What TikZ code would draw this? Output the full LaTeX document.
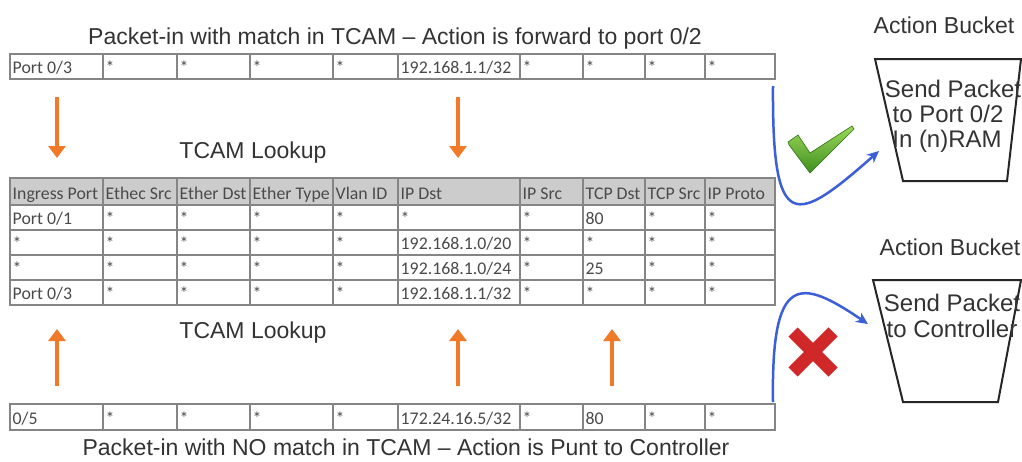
\documentclass[tikz,border=0pt]{standalone}
\usepackage{fontspec}
\setmainfont{Liberation Sans}
\newfontfamily\tabfont{Carlito}
\usetikzlibrary{arrows.meta}
\definecolor{txt}{HTML}{333333}
\definecolor{tabtxt}{HTML}{4A4A4A}
\definecolor{grid}{HTML}{858585}
\definecolor{hdr}{HTML}{CCCCCC}
\definecolor{org}{HTML}{F07A28}
\definecolor{blu}{HTML}{3A5FD8}
\definecolor{chkL}{HTML}{9BD85A}
\definecolor{chkD}{HTML}{3F8F1F}
\definecolor{xred}{HTML}{D02828}
\newcommand\tablerow[5]{%
  \foreach \t [count=\i] in {#5} {
    \pgfmathsetmacro\xl{{10,103,177,250,333,398,520,583,645,705}[\i-1]}
    \pgfmathsetmacro\xr{{103,177,250,333,398,520,583,645,705,775}[\i-1]}
    \path[#4] (\xl,#2) rectangle (\xr,#3);
    \node[celltext] (#1-\i) at (\xl+2.5,#3-6) {\t};
  }}
\begin{document}
\begin{tikzpicture}[x=1pt,y=-1pt,
  ttl/.style={font=\fontsize{23}{24}\selectfont, text=txt, inner sep=0pt, anchor=base},
  celltext/.style={font=\tabfont\fontsize{17.8}{18}\selectfont, text=tabtxt, inner sep=0pt, anchor=base west},
  cellbox/.style={draw=grid, line width=1.1pt},
  hdrbox/.style={draw=grid, fill=hdr, line width=1.1pt},
  orarrow/.style={draw=org, line width=4.5pt, -{Triangle[width=17pt,length=12pt]}},
  bluearrow/.style={draw=blu, line width=2.5pt, -{Stealth[length=12pt,width=11pt]}},
  bucket/.style={draw=black!85, line width=2pt, line join=miter},
  btxt/.style={font=\fontsize{24}{25}\selectfont, text=txt, inner sep=0pt, anchor=base}]
\useasboundingbox[fill=white] (0,0) rectangle (1022,461);

% titles
\node[ttl] (toptitle) at (395,44) {Packet-in with match in TCAM -- Action is forward to port 0/2};
\node[ttl] (bottitle) at (406,455) {Packet-in with NO match in TCAM -- Action is Punt to Controller};
\node[ttl] (look1) at (253,158) {TCAM Lookup};
\node[ttl] (look2) at (253,338) {TCAM Lookup};
\node[ttl] (ab1) at (944,33) {Action Bucket};
\node[ttl] (ab2) at (950,255) {Action Bucket};

% top packet row
\tablerow{top}{54}{79}{cellbox}{Port 0/3,*,*,*,*,192.168.1.1/32,*,*,*,*}
% main table
\tablerow{h}{178}{205}{hdrbox}{Ingress Port,Ethec Src,Ether Dst,Ether Type,Vlan ID,IP Dst,IP Src,TCP Dst,TCP Src,IP Proto}
\tablerow{ra}{205}{230}{cellbox}{Port 0/1,*,*,*,*,*,*,80,*,*}
\tablerow{rb}{230}{255}{cellbox}{*,*,*,*,*,192.168.1.0/20,*,*,*,*}
\tablerow{rc}{255}{280}{cellbox}{*,*,*,*,*,192.168.1.0/24,*,25,*,*}
\tablerow{rd}{280}{305}{cellbox}{Port 0/3,*,*,*,*,192.168.1.1/32,*,*,*,*}
% bottom packet row
\tablerow{bot}{404}{430}{cellbox}{0/5,*,*,*,*,172.24.16.5/32,*,80,*,*}

% orange arrows
\coordinate (d1s) at (57,97);  \coordinate (d1e) at (57,158);
\coordinate (d2s) at (458,97); \coordinate (d2e) at (458,158);
\coordinate (u1s) at (57,386);  \coordinate (u1e) at (57,329);
\coordinate (u2s) at (458,386); \coordinate (u2e) at (458,329);
\coordinate (u3s) at (612,386); \coordinate (u3e) at (612,329);
\foreach \a in {d1,d2,u1,u2,u3} \draw[orarrow] (\a s) -- (\a e);

% buckets
\draw[bucket] (875,59) -- (1021,59) -- (1007,181) -- (903,181) -- cycle;
\draw[bucket] (873,280) -- (1021,280) -- (998,402) -- (903,402) -- cycle;
\node[btxt] (b1l1) at (953,97) {Send Packet};
\node[btxt] (b1l2) at (948,122) {to Port 0/2};
\node[btxt] (b1l3) at (947,147) {In (n)RAM};
\node[btxt] (b2l1) at (952,311) {Send Packet};
\node[btxt] (b2l2) at (952,337) {to Controller};

% blue arrows
\coordinate (s1) at (773,86);  \coordinate (e1) at (879,151);
\coordinate (s2) at (773,402); \coordinate (e2) at (868,324);
\draw[bluearrow] (s1) .. controls (772,235) and (795,225) .. (e1);
\draw[bluearrow] (s2) .. controls (771,272) and (800,278) .. (e2);

% check mark
\shade[top color=chkL, bottom color=chkD, draw=chkD!80!black, line width=0.6pt]
  (788,142) -- (798,135) -- (810,153) -- (852,126) -- (854,129) -- (810,173) -- (789,145) -- cycle;
% red cross
\draw[xred, line width=13pt] (793,332) -- (833,372) (833,332) -- (793,372);
\end{tikzpicture}
\end{document}
